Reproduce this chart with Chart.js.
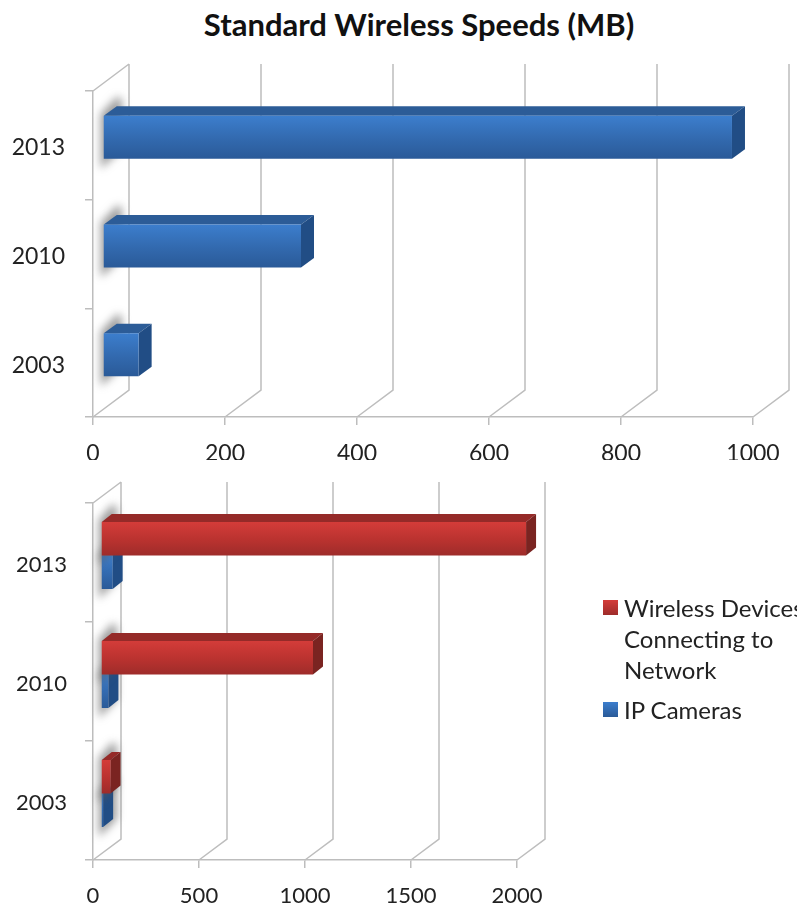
<!DOCTYPE html>
<html>
<head>
<meta charset="utf-8">
<title>Standard Wireless Speeds (MB)</title>
<script src="https://cdn.jsdelivr.net/npm/chart.js@4"></script>
<style>
  html, body { margin:0; padding:0; background:#fff; overflow:hidden; }
  body { position:relative; width:797px; height:907px; font-family:Lato, sans-serif; color:#262626; }
  h1 { position:absolute; left:0; top:6px; width:838px; margin:0; text-align:center; font-size:31px; line-height:36px; font-weight:700; color:#111; }
  canvas { position:absolute; left:0; }
  #speedChart { top:0; }
  #deviceChart { top:460px; }
  #legend { position:absolute; left:603px; top:592px; width:215px; font-size:24px; line-height:31px; color:#222; }
  #legend div { position:relative; padding-left:21px; margin-bottom:9px; width:180px; }
  #legend i { position:absolute; left:0; top:8px; width:15px; height:15px; }
</style>
</head>
<body>
<h1>Standard Wireless Speeds (MB)</h1>
<canvas id="speedChart" width="797" height="460"></canvas>
<canvas id="deviceChart" width="797" height="447"></canvas>
<div id="legend"></div>

<script>
const years = ['2013', '2010', '2003'];

const speedValues = [953, 300, 54];
const speedTicks = [0, 200, 400, 600, 800, 1000];

const deviceValues = [2005, 1000, 45];
const cameraValues = [55, 35, 10];
const deviceTicks = [0, 500, 1000, 1500, 2000];

const deviceLabel = 'Wireless Devices Connecting to Network';
const cameraLabel = 'IP Cameras';

const blue = { light:'#3c7ecd', mid:'#3269ae', dark:'#2a5a98', top:'#2c5c97', side:'#214d85' };
const red = { light:'#d43c39', mid:'#b9322f', dark:'#9e2c2a', top:'#952a28', side:'#7a2421' };

// extruded look: back wall and floor first, then each bar's shadow, top and side
const depth3d = {
  id: 'depth3d',
  beforeDraw(chart, args, opts) {
    // year labels sit a little below the band centre
    chart.scales.y.getLabelItems().forEach(item => {
      item.options.translation[1] += opts.labelDrop;
    });
  },
  beforeDatasetsDraw(chart, args, opts) {
    const { ctx, chartArea, scales } = chart;
    const [dx, dy] = opts.wall;
    ctx.save();
    ctx.strokeStyle = '#bdbdbd';
    ctx.lineWidth = 1.5;
    ctx.beginPath();
    ctx.moveTo(chartArea.left, chartArea.top);
    ctx.lineTo(chartArea.left + dx, chartArea.top + dy);
    scales.x.ticks.forEach(tick => {
      const x = scales.x.getPixelForValue(tick.value);
      ctx.moveTo(x, chartArea.bottom);
      ctx.lineTo(x + dx, chartArea.bottom + dy);
      ctx.lineTo(x + dx, chartArea.top + dy);
    });
    ctx.stroke();
    ctx.restore();
  },
  beforeDatasetDraw(chart, args, opts) {
    const { ctx } = chart;
    const meta = chart.getDatasetMeta(args.index);
    const colors = chart.data.datasets[args.index].faces;
    const [ox, oy] = opts.offset;
    const [bx, by] = opts.bar;
    ctx.save();
    ctx.translate(ox, oy);
    meta.data.forEach(bar => {
      const x0 = bar.base, x1 = bar.x;
      const top = bar.y - bar.height / 2, bottom = bar.y + bar.height / 2;

      ctx.save();
      ctx.filter = 'blur(4px)';
      ctx.fillStyle = 'rgba(90,90,90,0.6)';
      ctx.beginPath();
      ctx.moveTo(x0 - 3, bottom + 10);
      ctx.lineTo(x0 - 3, top - 2);
      ctx.lineTo(x0 + bx + 1, top + by - 10);
      ctx.lineTo(x0 + bx + 5, top + by - 7);
      ctx.lineTo(x0 + bx + 5, bottom + by);
      ctx.closePath();
      ctx.fill();
      ctx.restore();

      ctx.fillStyle = colors.top;
      ctx.beginPath();
      ctx.moveTo(x0, top);
      ctx.lineTo(x0 + bx, top + by);
      ctx.lineTo(x1 + bx, top + by);
      ctx.lineTo(x1, top);
      ctx.closePath();
      ctx.fill();

      ctx.fillStyle = colors.side;
      ctx.beginPath();
      ctx.moveTo(x1, top);
      ctx.lineTo(x1 + bx, top + by);
      ctx.lineTo(x1 + bx, bottom + by);
      ctx.lineTo(x1, bottom);
      ctx.closePath();
      ctx.fill();

      const grad = ctx.createLinearGradient(0, top, 0, bottom);
      grad.addColorStop(0, colors.light);
      grad.addColorStop(0.55, colors.mid);
      grad.addColorStop(1, colors.dark);
      bar.options = Object.assign({}, bar.options, { backgroundColor: grad });
    });
  },
  afterDatasetDraw(chart) {
    chart.ctx.restore();
  }
};

function barChart(id, datasets, ticks, max, fontSize, box) {
  const tickFont = { family:'Lato', size:fontSize };
  return new Chart(document.getElementById(id), {
    type: 'bar',
    plugins: [depth3d],
    data: { labels: years, datasets },
    options: {
      indexAxis: 'y',
      responsive: false,
      animation: false,
      layout: { padding: { left:0, top:box.top, right:box.right, bottom:0 } },
      datasets: { bar: { categoryPercentage:box.band, barPercentage:1, clip:false } },
      plugins: {
        legend: { display:false },
        tooltip: { enabled:false },
        depth3d: { wall:box.wall, offset:box.offset, bar:box.bar, labelDrop:box.labelDrop }
      },
      scales: {
        x: {
          min: 0, max,
          afterBuildTicks: s => { s.ticks = ticks.map(value => ({ value })); },
          afterFit: s => { s.height = box.under; },
          grid: { drawOnChartArea:false, color:'#bdbdbd', tickLength:8, lineWidth:1.5 },
          border: { color:'#bdbdbd', width:1.5 },
          ticks: { font:tickFont, color:'#222', padding:15, maxRotation:0, autoSkip:false, callback: v => String(v) }
        },
        y: {
          afterFit: s => { s.width = 93; },
          grid: { drawOnChartArea:false, color:'#bdbdbd', tickLength:8, lineWidth:1.5 },
          border: { color:'#bdbdbd', width:1.5 },
          ticks: { font:tickFont, color:'#222', padding:box.labelGap }
        }
      }
    }
  });
}

barChart('speedChart',
  [{ label:'Speed', data:speedValues, backgroundColor:blue.mid, faces:blue }],
  speedTicks, 1000, 23,
  { top:91, right:44, under:43, band:0.396, wall:[36,-27], offset:[10,-8], bar:[13,-9.5], labelGap:20, labelDrop:2.5 });

const deviceChart = barChart('deviceChart',
  [
    { label:deviceLabel, data:deviceValues, backgroundColor:red.mid, faces:red },
    { label:cameraLabel, data:cameraValues, backgroundColor:blue.mid, faces:blue }
  ],
  deviceTicks, 2000, 22,
  { top:43, right:280, under:47, band:0.563, wall:[28,-21], offset:[8,-7], bar:[10,-8], labelGap:18, labelDrop:2.5 });

// legend lives in the page so the long label can wrap
const legendEl = document.getElementById('legend');
deviceChart.data.datasets.forEach(ds => {
  const row = document.createElement('div');
  const swatch = document.createElement('i');
  swatch.style.background = `linear-gradient(${ds.faces.light}, ${ds.faces.dark})`;
  row.appendChild(swatch);
  row.appendChild(document.createTextNode(ds.label));
  legendEl.appendChild(row);
});
</script>
</body>
</html>
